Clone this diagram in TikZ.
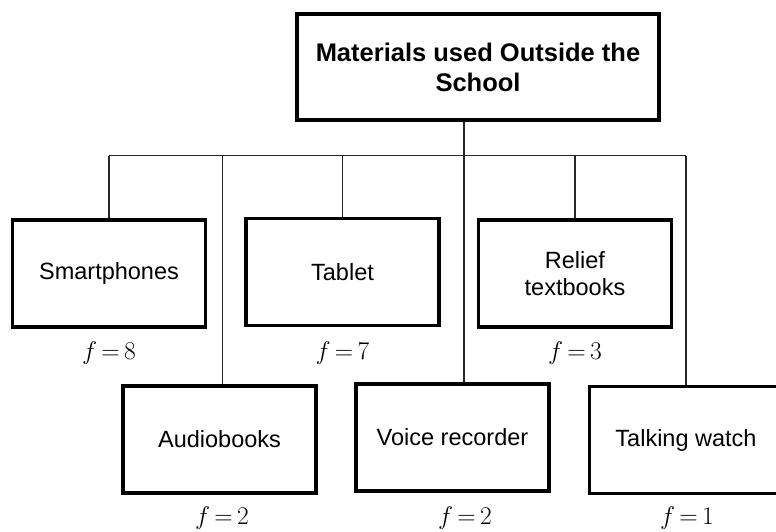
\RequirePackage{fix-cm}
\documentclass[tikz,border=0pt]{standalone}
\usepackage{fontspec}
\setmainfont{Liberation Sans}
\newcommand\freqlabel[1]{\thickmuskip=3mu\relax$f = #1$}
\begin{document}
\begin{tikzpicture}[x=1pt,y=-1pt,
  box/.style={draw=black,line width=3.6pt,minimum width=193pt,minimum height=107pt,
    inner sep=2pt,align=center,font=\fontsize{23.5}{27}\selectfont},
  rootbox/.style={box,minimum width=362pt,minimum height=106pt,
    font=\fontsize{25.5}{30}\selectfont\bfseries},
  freq/.style={inner sep=0pt,font=\fontsize{25.5}{28}\selectfont},
  conn/.style={draw=black!85,line width=1.4pt}]
\useasboundingbox (0,0) rectangle (776,532);
\clip (0,0) rectangle (776,532);

% heading box
\node[rootbox] (root) at (478,67) {Materials used Outside the\\School};

% first row of materials
\node[box] (smart)  at (109,273.5)   {Smartphones};
\node[box] (tablet) at (342.5,272)   {Tablet};
\node[box] (relief) at (575,273.5)   {Relief\\textbooks};

% second row of materials
\node[box] (audio) at (219.5,439.5) {Audiobooks};
\node[box] (voice) at (452.5,437.5) {Voice recorder};
\node[box] (watch) at (686,440)     {Talking watch};

% frequencies
\node[freq] (fsmart)  at (109,353)   {\freqlabel{8}};
\node[freq] (ftablet) at (342.5,353) {\freqlabel{7}};
\node[freq] (frelief) at (575,353)   {\freqlabel{3}};
\node[freq] (faudio)  at (222,518)   {\freqlabel{2}};
\node[freq] (fvoice)  at (465,518)   {\freqlabel{2}};
\node[freq] (fwatch)  at (687,518)   {\freqlabel{1}};

% bus and branch points
\coordinate (busL) at (109,155.5);
\coordinate (busR) at (686,155.5);
\coordinate (hub) at (464,155.5);
\coordinate (jaudio) at (222.5,155.5);

\draw[conn] (busL) -- (busR);
\draw[conn] (root.south -| hub) -- (hub);
\draw[conn] (hub) -- (hub |- voice.north);
\draw[conn] (jaudio) -- (jaudio |- audio.north);
\draw[conn] (busL) -- (smart.north);
\draw[conn] (tablet.north) -- (tablet.north |- busL);
\draw[conn] (relief.north) -- (relief.north |- busL);
\draw[conn] (busR) -- (watch.north);
\end{tikzpicture}
\end{document}
